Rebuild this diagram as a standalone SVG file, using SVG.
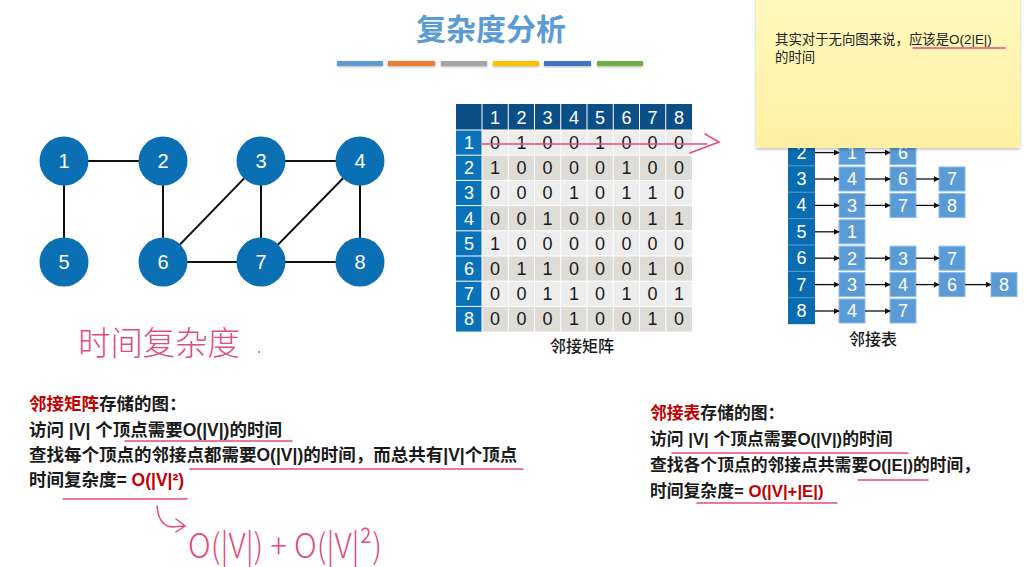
<svg xmlns="http://www.w3.org/2000/svg" width="1025" height="567" viewBox="0 0 1025 567">
<defs>
<style>
.t{font-family:"Liberation Sans","Noto Sans CJK SC",sans-serif}
.gn{fill:#0b70b3}
.gl{fill:#fff;font-size:20px;text-anchor:middle}
.edge{stroke:#111;stroke-width:2}
.mh{fill:#fff;font-size:18px;text-anchor:middle}
.mv{fill:#1a1a1a;font-size:18px;text-anchor:middle}
.hd{fill:#0c4f86}
.rl{fill:#0a72b8}
.odd{fill:#ededed}
.even{fill:#dedcd6}
.grid{stroke:#fff;stroke-width:1;fill:none}
.box{fill:#5b9bd5;stroke:#8cbbe6;stroke-width:1}
.bt{fill:#fff;font-size:18px;text-anchor:middle}
.arr{stroke:#111;stroke-width:1.3;marker-end:url(#ah)}
.body{font-weight:bold;fill:#1a1a1a}
.red{fill:#c00000}
.pink{stroke:#e24c81;stroke-width:1.5;fill:none;stroke-linecap:round}
.hw{fill:#e24c81;font-family:"Noto Sans CJK SC","Liberation Sans",sans-serif;font-weight:300}
</style>
<marker id="ah" viewBox="0 0 8 8" refX="7" refY="4" markerWidth="6" markerHeight="6" orient="auto" markerUnits="userSpaceOnUse">
<path d="M0,0 L8,4 L0,8 Z" fill="#111"/>
</marker>
<linearGradient id="sticky" x1="0" y1="0" x2="0" y2="1">
<stop offset="0" stop-color="#fff9bd"/>
<stop offset="1" stop-color="#fdf0a3"/>
</linearGradient>
<filter id="sh" x="-5%" y="-5%" width="110%" height="115%">
<feDropShadow dx="0" dy="1.5" stdDeviation="1.5" flood-color="#000" flood-opacity="0.25"/>
</filter>
<filter id="bsh" x="-10%" y="-50%" width="120%" height="250%">
<feDropShadow dx="0" dy="1" stdDeviation="0.8" flood-color="#000" flood-opacity="0.3"/>
</filter>
</defs>
<rect width="1025" height="567" fill="#fff"/>

<!-- title -->
<g id="title">
<text class="t" x="491" y="40" font-size="30" font-weight="bold" fill="#5b9bd5" text-anchor="middle">复杂度分析</text>
<g filter="url(#bsh)">
<rect x="337" y="61" width="46" height="5" fill="#5b9bd5"/>
<rect x="388" y="61" width="47" height="5" fill="#ed7d31"/>
<rect x="441" y="61" width="46" height="5" fill="#a5a5a5"/>
<rect x="493" y="61" width="46" height="5" fill="#ffc000"/>
<rect x="544" y="61" width="47" height="5" fill="#4472c4"/>
<rect x="597" y="61" width="46" height="5" fill="#70ad47"/>
</g>
</g>

<!-- graph connectors -->
<g id="graph-edges">
<line class="edge" x1="64" y1="161" x2="163" y2="161"/>
<line class="edge" x1="64" y1="161" x2="64" y2="262"/>
<line class="edge" x1="163" y1="161" x2="163" y2="262"/>
<line class="edge" x1="261" y1="161" x2="360" y2="161"/>
<line class="edge" x1="261" y1="161" x2="163" y2="262"/>
<line class="edge" x1="261" y1="161" x2="261" y2="262"/>
<line class="edge" x1="360" y1="161" x2="261" y2="262"/>
<line class="edge" x1="360" y1="161" x2="360" y2="262"/>
<line class="edge" x1="163" y1="262" x2="261" y2="262"/>
<line class="edge" x1="261" y1="262" x2="360" y2="262"/>
</g>
<g id="v1"><circle class="gn" cx="64" cy="161" r="24.5"/><text class="t gl" x="64" y="168">1</text></g>
<g id="v2"><circle class="gn" cx="163" cy="161" r="24.5"/><text class="t gl" x="163" y="168">2</text></g>
<g id="v3"><circle class="gn" cx="261" cy="161" r="24.5"/><text class="t gl" x="261" y="168">3</text></g>
<g id="v4"><circle class="gn" cx="360" cy="161" r="24.5"/><text class="t gl" x="360" y="168">4</text></g>
<g id="v5"><circle class="gn" cx="64" cy="262" r="24.5"/><text class="t gl" x="64" y="269">5</text></g>
<g id="v6"><circle class="gn" cx="163" cy="262" r="24.5"/><text class="t gl" x="163" y="269">6</text></g>
<g id="v7"><circle class="gn" cx="261" cy="262" r="24.5"/><text class="t gl" x="261" y="269">7</text></g>
<g id="v8"><circle class="gn" cx="360" cy="262" r="24.5"/><text class="t gl" x="360" y="269">8</text></g>

<!-- adjacency matrix -->
<g id="matrix">
<rect class="hd" x="456" y="104" width="236" height="26"/>
<rect class="rl" x="456" y="130" width="26" height="201.6"/>
<rect class="odd" x="482" y="130" width="210" height="25.2"/>
<rect class="even" x="482" y="155.2" width="210" height="25.2"/>
<rect class="odd" x="482" y="180.4" width="210" height="25.2"/>
<rect class="even" x="482" y="205.6" width="210" height="25.2"/>
<rect class="odd" x="482" y="230.8" width="210" height="25.2"/>
<rect class="even" x="482" y="256" width="210" height="25.2"/>
<rect class="odd" x="482" y="281.2" width="210" height="25.2"/>
<rect class="even" x="482" y="306.4" width="210" height="25.2"/>
<path class="grid" d="M482,104V331.6 M508.25,104V331.6 M534.5,104V331.6 M560.75,104V331.6 M587,104V331.6 M613.25,104V331.6 M639.5,104V331.6 M665.75,104V331.6 M456,130H692 M456,155.2H692 M456,180.4H692 M456,205.6H692 M456,230.8H692 M456,256H692 M456,281.2H692 M456,306.4H692"/>
<g class="t mh">
<text x="495.1" y="124">1</text><text x="521.4" y="124">2</text><text x="547.6" y="124">3</text><text x="573.9" y="124">4</text><text x="600.1" y="124">5</text><text x="626.4" y="124">6</text><text x="652.6" y="124">7</text><text x="678.9" y="124">8</text>
<text x="469" y="149">1</text><text x="469" y="174.2">2</text><text x="469" y="199.4">3</text><text x="469" y="224.6">4</text><text x="469" y="249.8">5</text><text x="469" y="275">6</text><text x="469" y="300.2">7</text><text x="469" y="325.4">8</text>
</g>
<g class="t mv">
<text x="495.1" y="149">0</text><text x="521.4" y="149">1</text><text x="547.6" y="149">0</text><text x="573.9" y="149">0</text><text x="600.1" y="149">1</text><text x="626.4" y="149">0</text><text x="652.6" y="149">0</text><text x="678.9" y="149">0</text>
<text x="495.1" y="174.2">1</text><text x="521.4" y="174.2">0</text><text x="547.6" y="174.2">0</text><text x="573.9" y="174.2">0</text><text x="600.1" y="174.2">0</text><text x="626.4" y="174.2">1</text><text x="652.6" y="174.2">0</text><text x="678.9" y="174.2">0</text>
<text x="495.1" y="199.4">0</text><text x="521.4" y="199.4">0</text><text x="547.6" y="199.4">0</text><text x="573.9" y="199.4">1</text><text x="600.1" y="199.4">0</text><text x="626.4" y="199.4">1</text><text x="652.6" y="199.4">1</text><text x="678.9" y="199.4">0</text>
<text x="495.1" y="224.6">0</text><text x="521.4" y="224.6">0</text><text x="547.6" y="224.6">1</text><text x="573.9" y="224.6">0</text><text x="600.1" y="224.6">0</text><text x="626.4" y="224.6">0</text><text x="652.6" y="224.6">1</text><text x="678.9" y="224.6">1</text>
<text x="495.1" y="249.8">1</text><text x="521.4" y="249.8">0</text><text x="547.6" y="249.8">0</text><text x="573.9" y="249.8">0</text><text x="600.1" y="249.8">0</text><text x="626.4" y="249.8">0</text><text x="652.6" y="249.8">0</text><text x="678.9" y="249.8">0</text>
<text x="495.1" y="275">0</text><text x="521.4" y="275">1</text><text x="547.6" y="275">1</text><text x="573.9" y="275">0</text><text x="600.1" y="275">0</text><text x="626.4" y="275">0</text><text x="652.6" y="275">1</text><text x="678.9" y="275">0</text>
<text x="495.1" y="300.2">0</text><text x="521.4" y="300.2">0</text><text x="547.6" y="300.2">1</text><text x="573.9" y="300.2">1</text><text x="600.1" y="300.2">0</text><text x="626.4" y="300.2">1</text><text x="652.6" y="300.2">0</text><text x="678.9" y="300.2">1</text>
<text x="495.1" y="325.4">0</text><text x="521.4" y="325.4">0</text><text x="547.6" y="325.4">0</text><text x="573.9" y="325.4">1</text><text x="600.1" y="325.4">0</text><text x="626.4" y="325.4">0</text><text x="652.6" y="325.4">1</text><text x="678.9" y="325.4">0</text>
</g>
<text class="t" x="582" y="352" font-size="16" font-weight="500" fill="#1a1a1a" text-anchor="middle">邻接矩阵</text>
</g>

<!-- adjacency list -->
<g id="adjlist">
<rect x="788" y="113" width="27" height="211.2" fill="#0a6cb0"/>
<path d="M788,139.4H815 M788,165.8H815 M788,192.2H815 M788,218.6H815 M788,245H815 M788,271.4H815 M788,297.8H815" stroke="#5a9fd0" stroke-width="1"/>
<g class="t mh">
<text x="801.5" y="158.6">2</text><text x="801.5" y="185">3</text><text x="801.5" y="211.4">4</text><text x="801.5" y="237.8">5</text><text x="801.5" y="264.2">6</text><text x="801.5" y="290.6">7</text><text x="801.5" y="317">8</text>
</g>
<g id="adj-boxes">
<rect class="box" x="839" y="140.6" width="26" height="24"/><rect class="box" x="890" y="140.6" width="26" height="24"/>
<rect class="box" x="839" y="167" width="26" height="24"/><rect class="box" x="890" y="167" width="26" height="24"/><rect class="box" x="939" y="167" width="26" height="24"/>
<rect class="box" x="839" y="193.4" width="26" height="24"/><rect class="box" x="890" y="193.4" width="26" height="24"/><rect class="box" x="939" y="193.4" width="26" height="24"/>
<rect class="box" x="839" y="219.8" width="26" height="24"/>
<rect class="box" x="839" y="246.2" width="26" height="24"/><rect class="box" x="890" y="246.2" width="26" height="24"/><rect class="box" x="939" y="246.2" width="26" height="24"/>
<rect class="box" x="839" y="272.6" width="26" height="24"/><rect class="box" x="890" y="272.6" width="26" height="24"/><rect class="box" x="939" y="272.6" width="26" height="24"/><rect class="box" x="991" y="272.6" width="26" height="24"/>
<rect class="box" x="839" y="299" width="26" height="24"/><rect class="box" x="890" y="299" width="26" height="24"/>
</g>
<g class="t bt">
<text x="852" y="159">1</text><text x="903" y="159">6</text>
<text x="852" y="185.4">4</text><text x="903" y="185.4">6</text><text x="952" y="185.4">7</text>
<text x="852" y="211.8">3</text><text x="903" y="211.8">7</text><text x="952" y="211.8">8</text>
<text x="852" y="238.2">1</text>
<text x="852" y="264.6">2</text><text x="903" y="264.6">3</text><text x="952" y="264.6">7</text>
<text x="852" y="291">3</text><text x="903" y="291">4</text><text x="952" y="291">6</text><text x="1004" y="291">8</text>
<text x="852" y="317.4">4</text><text x="903" y="317.4">7</text>
</g>
<text class="t" x="873" y="345" font-size="16" font-weight="500" fill="#1a1a1a" text-anchor="middle">邻接表</text>
</g>
<g id="adj-arrows">
<line class="arr" x1="815" y1="152.6" x2="839" y2="152.6"/><line class="arr" x1="865" y1="152.6" x2="890" y2="152.6"/>
<line class="arr" x1="815" y1="179" x2="839" y2="179"/><line class="arr" x1="865" y1="179" x2="890" y2="179"/><line class="arr" x1="916" y1="179" x2="939" y2="179"/>
<line class="arr" x1="815" y1="205.4" x2="839" y2="205.4"/><line class="arr" x1="865" y1="205.4" x2="890" y2="205.4"/><line class="arr" x1="916" y1="205.4" x2="939" y2="205.4"/>
<line class="arr" x1="815" y1="231.8" x2="839" y2="231.8"/>
<line class="arr" x1="815" y1="258.2" x2="839" y2="258.2"/><line class="arr" x1="865" y1="258.2" x2="890" y2="258.2"/><line class="arr" x1="916" y1="258.2" x2="939" y2="258.2"/>
<line class="arr" x1="815" y1="284.6" x2="839" y2="284.6"/><line class="arr" x1="865" y1="284.6" x2="890" y2="284.6"/><line class="arr" x1="916" y1="284.6" x2="939" y2="284.6"/><line class="arr" x1="965" y1="284.6" x2="991" y2="284.6"/>
<line class="arr" x1="815" y1="311" x2="839" y2="311"/><line class="arr" x1="865" y1="311" x2="890" y2="311"/>
</g>

<!-- sticky note -->
<g id="sticky-note">
<rect x="756" y="-6" width="264" height="154" fill="url(#sticky)" filter="url(#sh)"/>
<text class="t" x="775" y="44" font-size="13.4" fill="#222">其实对于无向图来说，应该是O(2|E|)</text>
<text class="t" x="775" y="62" font-size="13.4" fill="#222">的时间</text>
<line class="pink" x1="913" y1="48" x2="1005" y2="48" stroke-width="1.2"/>
</g>

<!-- pink stroke across matrix row 1 -->
<g id="row-mark">
<line class="pink" x1="481" y1="144" x2="707" y2="144"/>
<path class="pink" d="M705,134 L719,142 L690,153"/>
</g>

<!-- handwriting -->
<g id="handwriting">
<text class="hw" x="78" y="355" font-size="33" textLength="162" lengthAdjust="spacingAndGlyphs">时间复杂度</text>
<circle cx="259" cy="352" r="1" fill="#e24c81"/>
<path class="pink" d="M157,506 C158,518 162,526 172,527 L184,526 M176,519 L185,526 L176,532"/>
<text class="hw" x="188" y="558" font-size="34" textLength="194" lengthAdjust="spacingAndGlyphs">O(|V|) + O(|V|²)</text>
</g>

<!-- bottom-left text -->
<g id="matrix-text" class="t body" font-size="17.5">
<text x="29" y="410"><tspan class="red">邻接矩阵</tspan>存储的图：</text>
<text x="29" y="436">访问 |V| 个顶点需要O(|V|)的时间</text>
<text x="29" y="461">查找每个顶点的邻接点都需要O(|V|)的时间，而总共有|V|个顶点</text>
<text x="29" y="486">时间复杂度= <tspan class="red">O(|V|²)</tspan></text>
<line class="pink" x1="125" y1="441" x2="292" y2="441"/>
<line class="pink" x1="190" y1="469" x2="523" y2="469"/>
<line class="pink" x1="63" y1="499" x2="187" y2="499"/>
</g>

<!-- bottom-right text -->
<g id="list-text" class="t body" font-size="16.8">
<text x="650" y="419"><tspan class="red">邻接表</tspan>存储的图：</text>
<text x="650" y="445">访问 |V| 个顶点需要O(|V|)的时间</text>
<text x="650" y="471">查找各个顶点的邻接点共需要O(|E|)的时间，</text>
<text x="650" y="497">时间复杂度= <tspan class="red">O(|V|+|E|)</tspan></text>
<line class="pink" x1="672" y1="453" x2="908" y2="453"/>
<line class="pink" x1="858" y1="480" x2="928" y2="480"/>
<line class="pink" x1="697" y1="503" x2="837" y2="503"/>
</g>
</svg>
